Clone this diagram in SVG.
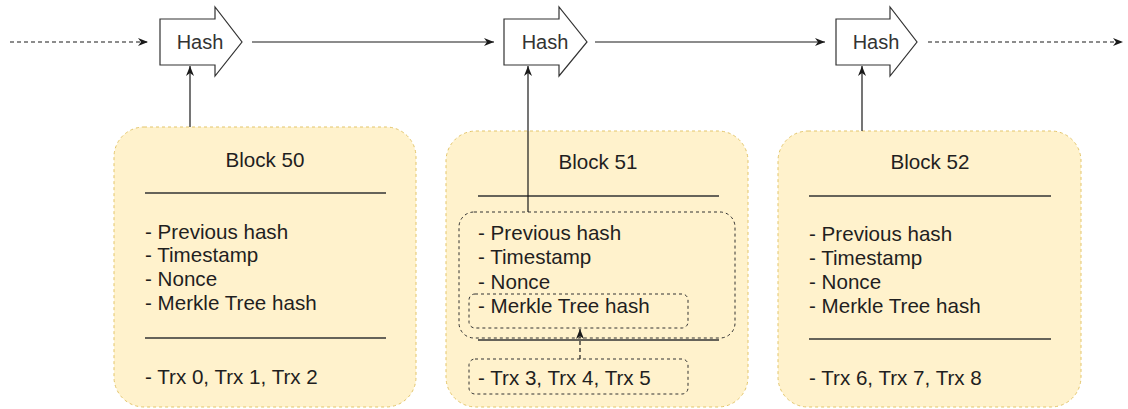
<svg xmlns="http://www.w3.org/2000/svg" width="1128" height="409" viewBox="0 0 1128 409">
  <style>
    text { font-family: "Liberation Sans", Arial, sans-serif; font-size: 20.6px; fill: #1f1f1f; }
    .center { text-anchor: middle; }
    .label { font-size: 20px; fill: #333333; }
    .hash { fill: #ffffff; stroke: #333333; stroke-width: 1.2; }
    .block { fill: #fff2cc; stroke: #e3c56a; stroke-width: 1; stroke-dasharray: 3 3; }
    .group { fill: none; stroke: #333333; stroke-width: 1; stroke-dasharray: 3 3; }
    .rule { stroke: #333333; stroke-width: 1.3; }
    .edge { fill: none; stroke: #1a1a1a; stroke-width: 1.2; }
    .dash { stroke-dasharray: 4 3; }
  </style>
  <defs>
    <marker id="arrow" markerUnits="userSpaceOnUse" markerWidth="10" markerHeight="8" viewBox="0 0 10 8" refX="10" refY="4" orient="auto">
      <path d="M0,0 L10,4 L0,8 L3,4 Z" fill="#1a1a1a"/>
    </marker>
  </defs>

  <!-- chain of hash arrows -->
  <g id="hash-1">
    <path class="hash" d="M160,19 H215 V7 L242,42 L215,76 V65 H160 Z"/>
    <text class="center label" x="200" y="49">Hash</text>
  </g>
  <g id="hash-2">
    <path class="hash" d="M504,19 H559 V7 L587,42 L559,76 V65 H504 Z"/>
    <text class="center label" x="545" y="49">Hash</text>
  </g>
  <g id="hash-3">
    <path class="hash" d="M836,19 H890 V7 L917,42 L890,76 V65 H836 Z"/>
    <text class="center label" x="876" y="49">Hash</text>
  </g>

  <!-- Block 50 -->
  <g id="block-50">
    <rect class="block" x="114" y="127" width="302" height="280" rx="30" ry="30"/>
    <text class="center" x="265" y="167">Block 50</text>
    <line class="rule" x1="145" y1="193" x2="386" y2="193"/>
    <text x="145" y="239">- Previous hash</text>
    <text x="145" y="262">- Timestamp</text>
    <text x="145" y="286">- Nonce</text>
    <text x="145" y="310">- Merkle Tree hash</text>
    <line class="rule" x1="145" y1="338" x2="386" y2="338"/>
    <text x="145" y="384">- Trx 0, Trx 1, Trx 2</text>
  </g>

  <!-- Block 51 -->
  <g id="block-51">
    <rect class="block" x="446" y="131" width="302" height="276" rx="30" ry="30"/>
    <text class="center" x="598" y="169">Block 51</text>
    <line class="rule" x1="478" y1="196" x2="719" y2="196"/>
    <g id="block-51-header">
      <rect class="group" x="459" y="212" width="276" height="126" rx="15" ry="15"/>
      <text x="478" y="240">- Previous hash</text>
      <text x="478" y="264">- Timestamp</text>
      <text x="478" y="289">- Nonce</text>
    </g>
    <g id="block-51-merkle">
      <rect class="group" x="469" y="294" width="219" height="34" rx="6" ry="6"/>
      <text x="478" y="313">- Merkle Tree hash</text>
    </g>
    <line class="rule" x1="478" y1="340" x2="719" y2="340"/>
    <g id="block-51-trx">
      <rect class="group" x="469" y="359" width="219" height="35" rx="6" ry="6"/>
      <text x="478" y="385">- Trx 3, Trx 4, Trx 5</text>
    </g>
  </g>

  <!-- Block 52 -->
  <g id="block-52">
    <rect class="block" x="778" y="131" width="303" height="276" rx="30" ry="30"/>
    <text class="center" x="930" y="169">Block 52</text>
    <line class="rule" x1="809" y1="196" x2="1051" y2="196"/>
    <text x="809" y="241">- Previous hash</text>
    <text x="809" y="265">- Timestamp</text>
    <text x="809" y="289">- Nonce</text>
    <text x="809" y="313">- Merkle Tree hash</text>
    <line class="rule" x1="809" y1="339" x2="1051" y2="339"/>
    <text x="809" y="385">- Trx 6, Trx 7, Trx 8</text>
  </g>

  <!-- connectors -->
  <g id="connectors">
    <line class="edge dash" x1="10" y1="42" x2="148" y2="42" marker-end="url(#arrow)"/>
    <line class="edge" x1="252" y1="42" x2="494" y2="42" marker-end="url(#arrow)"/>
    <line class="edge" x1="595" y1="42" x2="825" y2="42" marker-end="url(#arrow)"/>
    <line class="edge dash" x1="928" y1="42" x2="1123" y2="42" marker-end="url(#arrow)"/>
    <line class="edge" x1="190" y1="127" x2="190" y2="66" marker-end="url(#arrow)"/>
    <line class="edge" x1="528" y1="212" x2="528" y2="66" marker-end="url(#arrow)"/>
    <line class="edge" x1="862" y1="131" x2="862" y2="66" marker-end="url(#arrow)"/>
    <line class="edge dash" x1="580" y1="359" x2="580" y2="329" marker-end="url(#arrow)"/>
  </g>
</svg>
